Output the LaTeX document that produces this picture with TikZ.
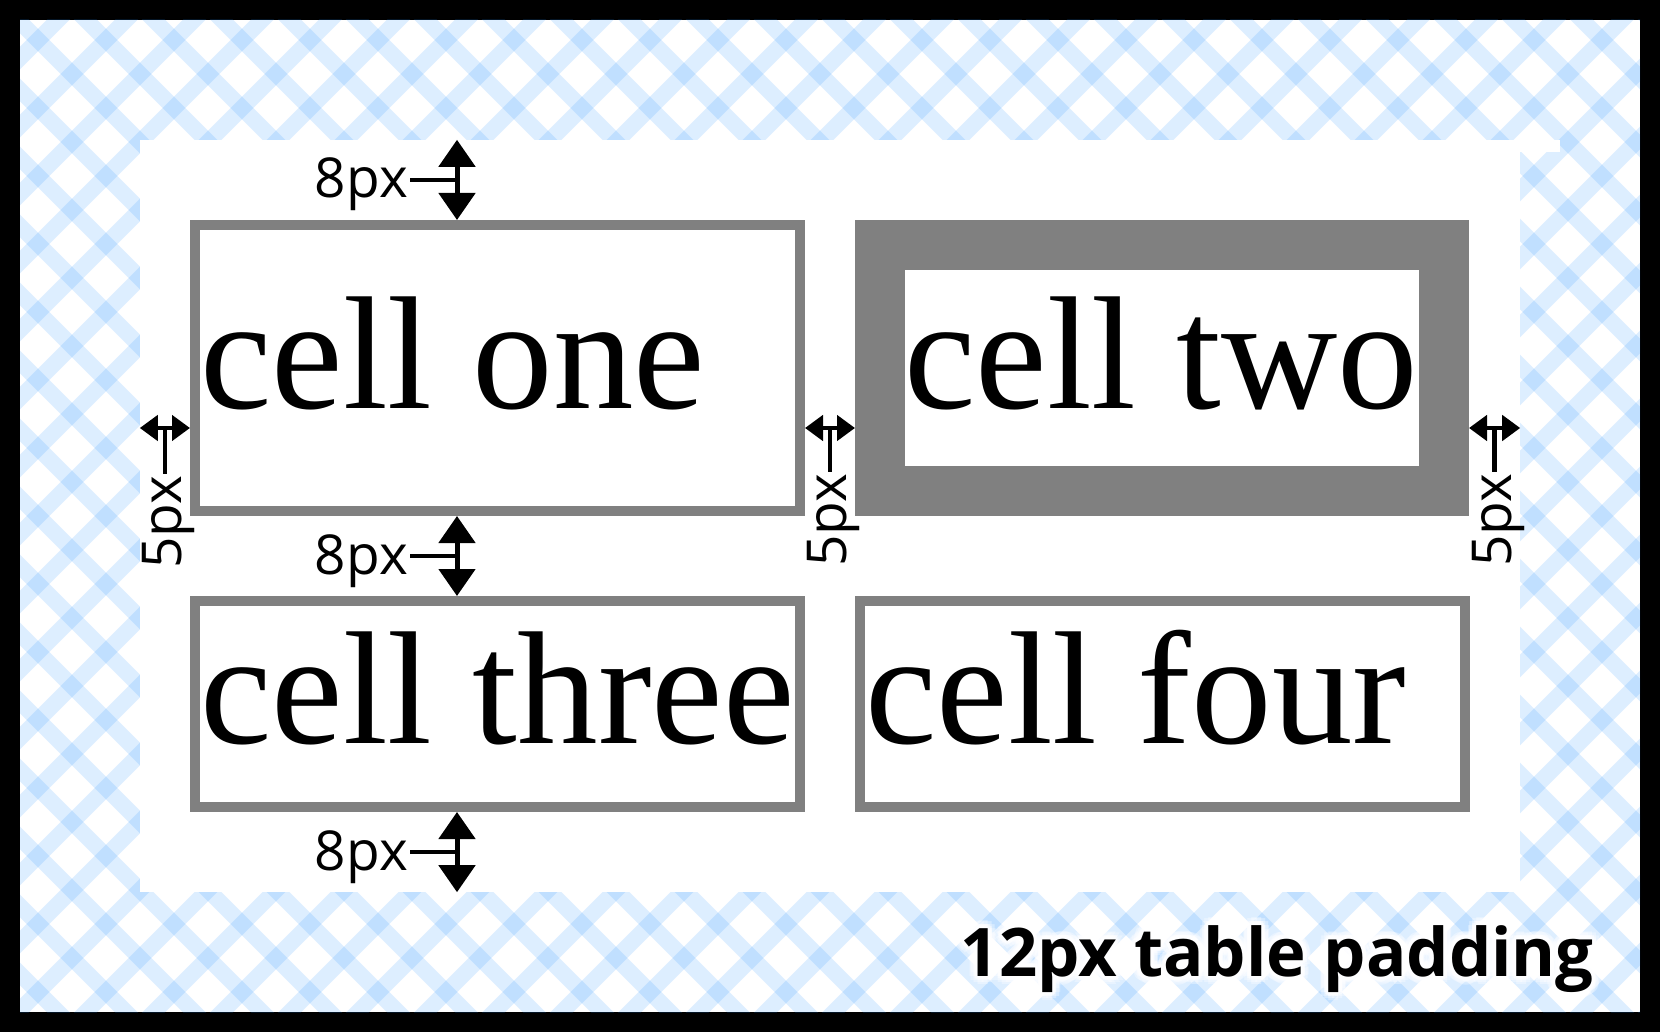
\documentclass[tikz,border=0pt]{standalone}
\usepackage{xcolor}
\usepackage{fontspec}
\setmainfont{Liberation Serif}
\newfontfamily\dimfont{Open Sans}
\usepackage{tikz}
\usetikzlibrary{arrows.meta, positioning}
\definecolor{plaidblue}{RGB}{30,144,255}
\definecolor{cellgray}{RGB}{128,128,128}

\begin{document}
\begin{tikzpicture}[x=1pt, y=-1pt,
    stripe/.style={line width=16pt, draw=plaidblue, draw opacity=0.15},
    cellbox/.style={draw=cellgray, fill=white, rectangle, inner sep=0pt},
    celltext/.style={anchor=base west, inner sep=0pt, font=\fontsize{161}{165}\selectfont},
    dimlabel/.style={inner sep=2pt, font=\dimfont\fontsize{55}{60}\selectfont},
    padlabel/.style={anchor=base east, inner sep=0pt, font=\dimfont\fontsize{67}{72}\selectfont\bfseries},
    dimv/.style={{Triangle[width=36pt,length=27pt]}-{Triangle[width=36pt,length=27pt]}, line width=5pt},
    dimh/.style={{Triangle[width=25pt,length=18pt]}-{Triangle[width=25pt,length=18pt]}, line width=4.5pt},
    tick/.style={line width=4.5pt}
]
\useasboundingbox (0,0) rectangle (1660,1032);
\fill[black] (0,0) rectangle (1660,1032);
\begin{scope}
\clip (20,20) rectangle (1640,1012);
\fill[white] (20,20) rectangle (1640,1012);
\foreach \c in {-58,10,...,2730} \draw[stripe] (\c+40,-40) -- (\c-1100,1100);
\foreach \d in {-1090,-1022,...,1698} \draw[stripe] (\d-40,-40) -- (\d+1100,1100);
\end{scope}
\node[fill=white, inner sep=0pt, minimum width=1380pt, minimum height=752pt] (pad) at (830,516) {};
\fill[white] (1520,140) rectangle (1560,152);

\node[cellbox, line width=10pt, minimum width=605pt, minimum height=286pt] (one) at (497.5,368) {};
\node[cellbox, line width=50pt, minimum width=564pt, minimum height=246pt] (two) at (1162,368) {};
\node[cellbox, line width=10pt, minimum width=605pt, minimum height=206pt] (three) at (497.5,704) {};
\node[cellbox, line width=10pt, minimum width=605pt, minimum height=206pt] (four) at (1162.5,704) {};
\node[celltext] (t1) at (200,408) {cell one};
\node[celltext] (t2) at (904,408) {cell two};
\node[celltext] (t3) at (200,743) {cell three};
\node[celltext] (t4) at (865,743) {cell four};

\coordinate (vx) at (457,0);
\coordinate (hy) at (0,428);
\draw[dimv] (pad.north -| vx) -- (one.north -| vx);
\draw[dimv] (one.south -| vx) -- (three.north -| vx);
\draw[dimv] (three.south -| vx) -- (pad.south -| vx);
\draw[dimh] (pad.west |- hy) -- (one.west |- hy);
\draw[dimh] (one.east |- hy) -- (two.west |- hy);
\draw[dimh] (two.east |- hy) -- (pad.east |- hy);

\coordinate (m1) at (457,180);
\coordinate (m2) at (457,556);
\coordinate (m3) at (457,852);
\node[dimlabel, anchor=base east] (l1) at (410,198) {8px};
\node[dimlabel, anchor=base east] (l2) at (410,574) {8px};
\node[dimlabel, anchor=base east] (l3) at (410,870) {8px};
\draw[tick] (l1.east |- m1) -- (m1);
\draw[tick] (l2.east |- m2) -- (m2);
\draw[tick] (l3.east |- m3) -- (m3);

\coordinate (m4) at (165,428);
\coordinate (m5) at (830,428);
\coordinate (m6) at (1494.5,428);
\node[dimlabel, rotate=90, anchor=base west] (l4) at (181,571) {5px};
\node[dimlabel, rotate=90, anchor=base west] (l5) at (846,569) {5px};
\node[dimlabel, rotate=90, anchor=base west] (l6) at (1511,569) {5px};
\draw[tick] (m4) -- (m4 |- l4.east);
\draw[tick] (m5) -- (m5 |- l5.east);
\draw[tick] (m6) -- (m6 |- l6.east);

\foreach \a in {0,30,...,330} {
  \node[padlabel, text=white, text opacity=0.35] (g\a) at ([shift={(\a:8)}]1594,976) {12px table padding};
  \node[padlabel, text=white, text opacity=0.6] (h\a) at ([shift={(\a:4)}]1594,976) {12px table padding};
}
\node[padlabel] (caption) at (1594,976) {12px table padding};
\end{tikzpicture}
\end{document}
